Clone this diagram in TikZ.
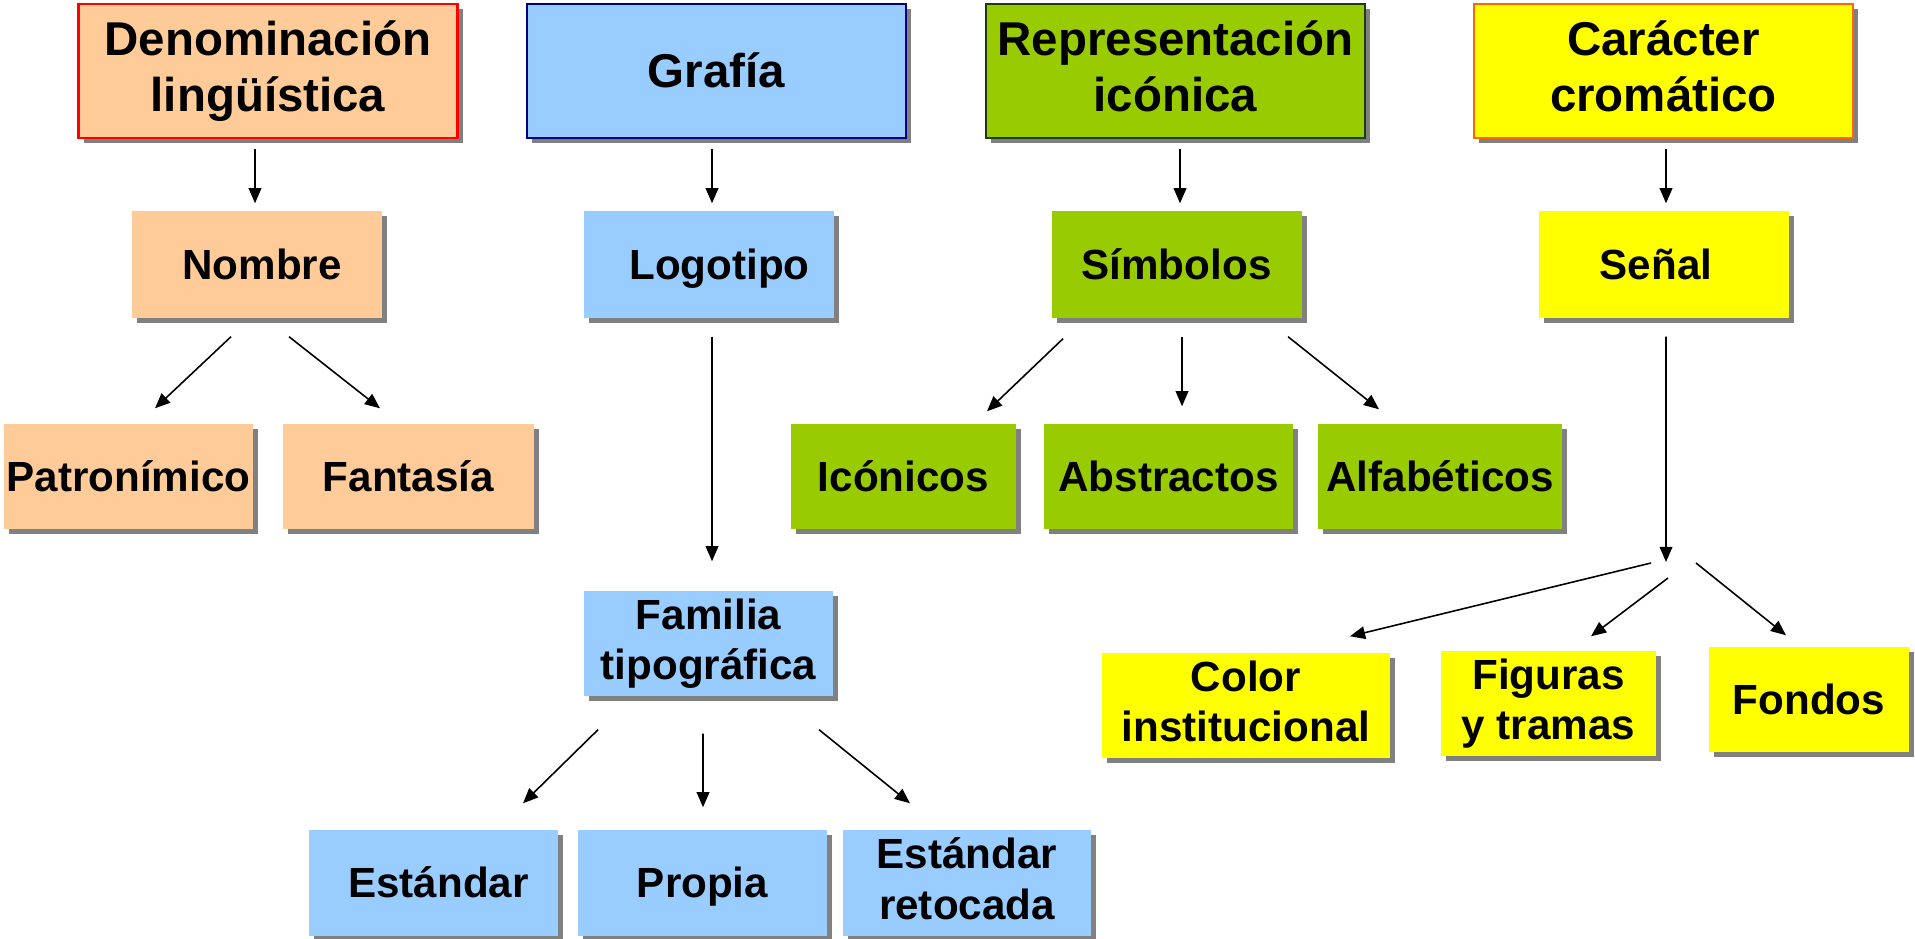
\documentclass[tikz,border=0pt]{standalone}
\usepackage{fontspec}
\setmainfont{Liberation Sans}
\usepackage{tikz}
\usetikzlibrary{arrows.meta, shadows}

\definecolor{peach}{HTML}{FFCC99}
\definecolor{sky}{HTML}{99CCFF}
\definecolor{lime}{HTML}{99CC00}
\definecolor{lemon}{HTML}{FFFF00}
\definecolor{navyline}{HTML}{000080}
\definecolor{darkgreenline}{HTML}{1F3A10}
\definecolor{orangeline}{HTML}{FF6600}

% line box as in the slide: ascent and descent of the font
\newcommand{\linestrut}{\rule[-0.212em]{0pt}{1.117em}}

\begin{document}
\begin{tikzpicture}[
        box/.style={rectangle, inner sep=0pt, align=center, font=\bfseries\fontsize{12}{14.3}\selectfont,
            execute at begin node=\linestrut, execute at end node=\linestrut,
            minimum height=1.05cm, drop shadow={shadow xshift=0.05cm, shadow yshift=-0.05cm, fill=black!50, opacity=1}},
        topbox/.style={box, draw, line width=0.6pt, minimum width=3.79cm, minimum height=1.34cm,
            font=\bfseries\fontsize{13.5}{16}\selectfont},
        arr/.style={-{Triangle[length=4.3pt, width=3.6pt]}, line width=0.45pt}
    ]
        \useasboundingbox (0,0) rectangle (19.15,9.38);

        % Nodes
        \node (denom) [topbox, fill=peach, draw=red] at (2.68,8.67) {Denominación\\lingüística};
        \node (grafia) [topbox, fill=sky, draw=navyline] at (7.165,8.67) {Grafía};
        \node (repre) [topbox, fill=lime, draw=darkgreenline] at (11.755,8.67) {Representación\\icónica};
        \node (caracter) [topbox, fill=lemon, draw=orangeline] at (16.635,8.67) {Carácter\\cromático};

        \node (nombre) [box, fill=peach, minimum width=2.5cm, minimum height=1.07cm] at (2.57,6.735) {\hspace*{0.1cm}Nombre};
        \node (logotipo) [box, fill=sky, minimum width=2.5cm, minimum height=1.07cm] at (7.085,6.735) {\hspace*{0.22cm}Logotipo};
        \node (simbolos) [box, fill=lime, minimum width=2.5cm, minimum height=1.07cm] at (11.765,6.735) {Símbolos};
        \node (senal) [box, fill=lemon, minimum width=2.5cm, minimum height=1.07cm] at (16.635,6.735) {Señal\hspace*{0.15cm}};

        \node (patron) [box, fill=peach, minimum width=2.49cm] at (1.285,4.615) {Patronímico};
        \node (fantasia) [box, fill=peach, minimum width=2.51cm] at (4.085,4.615) {Fantasía};
        \node (iconicos) [box, fill=lime, minimum width=2.25cm] at (9.035,4.615) {Icónicos};
        \node (abstractos) [box, fill=lime, minimum width=2.49cm] at (11.685,4.615) {Abstractos};
        \node (alfabeticos) [box, fill=lime, minimum width=2.44cm] at (14.40,4.615) {Alfabéticos};

        \node (familia) [box, fill=sky, minimum width=2.49cm] at (7.085,2.945) {Familia\\tipográfica};
        \node (estandar) [box, fill=sky, minimum width=2.49cm, minimum height=1.06cm] at (4.335,0.55) {\hspace*{0.1cm}Estándar};
        \node (propia) [box, fill=sky, minimum width=2.49cm, minimum height=1.06cm] at (7.025,0.55) {Propia};
        \node (retocada) [box, fill=sky, minimum width=2.48cm, minimum height=1.06cm] at (9.67,0.55) {Estándar\\retocada};

        \node (color) [box, fill=lemon, minimum width=2.88cm] at (12.46,2.325) {Color\\institucional};
        \node (figuras) [box, fill=lemon, minimum width=2.15cm] at (15.485,2.345) {Figuras\\y tramas};
        \node (fondos) [box, fill=lemon, minimum width=2.0cm] at (18.09,2.385) {Fondos};

        \coordinate (hub) at (16.66,3.76);

        % Arrows
        \draw[arr] ([shift={(-0.13,-0.10)}]denom.south) -- ([shift={(-0.02,0.07)}]nombre.north);
        \draw[arr] ([shift={(-0.045,-0.10)}]grafia.south) -- ([shift={(0.035,0.07)}]logotipo.north);
        \draw[arr] ([shift={(0.045,-0.10)}]repre.south) -- ([shift={(0.035,0.07)}]simbolos.north);
        \draw[arr] ([shift={(0.025,-0.10)}]caracter.south) -- ([shift={(0.025,0.07)}]senal.north);

        \draw[arr] ([shift={(-0.26,-0.18)}]nombre.south) -- ([shift={(0.265,0.15)}]patron.north);
        \draw[arr] ([shift={(0.32,-0.18)}]nombre.south) -- ([shift={(-0.285,0.15)}]fantasia.north);

        \draw[arr] ([shift={(0.035,-0.18)}]logotipo.south) -- ([shift={(0.035,0.29)}]familia.north);

        \draw[arr] ([shift={(-1.135,-0.20)}]simbolos.south) -- ([shift={(0.835,0.12)}]iconicos.north);
        \draw[arr] ([shift={(0.055,-0.18)}]simbolos.south) -- ([shift={(0.135,0.17)}]abstractos.north);
        \draw[arr] ([shift={(1.115,-0.18)}]simbolos.south) -- ([shift={(-0.61,0.14)}]alfabeticos.north);

        \draw[arr] ([shift={(0.025,-0.18)}]senal.south) -- (hub);
        \draw[arr] ([shift={(-0.15,-0.01)}]hub) -- ([shift={(1.04,0.16)}]color.north);
        \draw[arr] ([shift={(0.02,-0.16)}]hub) -- ([shift={(0.425,0.14)}]figuras.north);
        \draw[arr] ([shift={(0.30,-0.01)}]hub) -- ([shift={(-0.23,0.11)}]fondos.north);

        \draw[arr] ([shift={(-1.105,-0.33)}]familia.south) -- ([shift={(0.895,0.26)}]estandar.north);
        \draw[arr] ([shift={(-0.055,-0.37)}]familia.south) -- ([shift={(0.005,0.22)}]propia.north);
        \draw[arr] ([shift={(1.105,-0.33)}]familia.south) -- ([shift={(-0.57,0.26)}]retocada.north);
    \end{tikzpicture}
\end{document}
